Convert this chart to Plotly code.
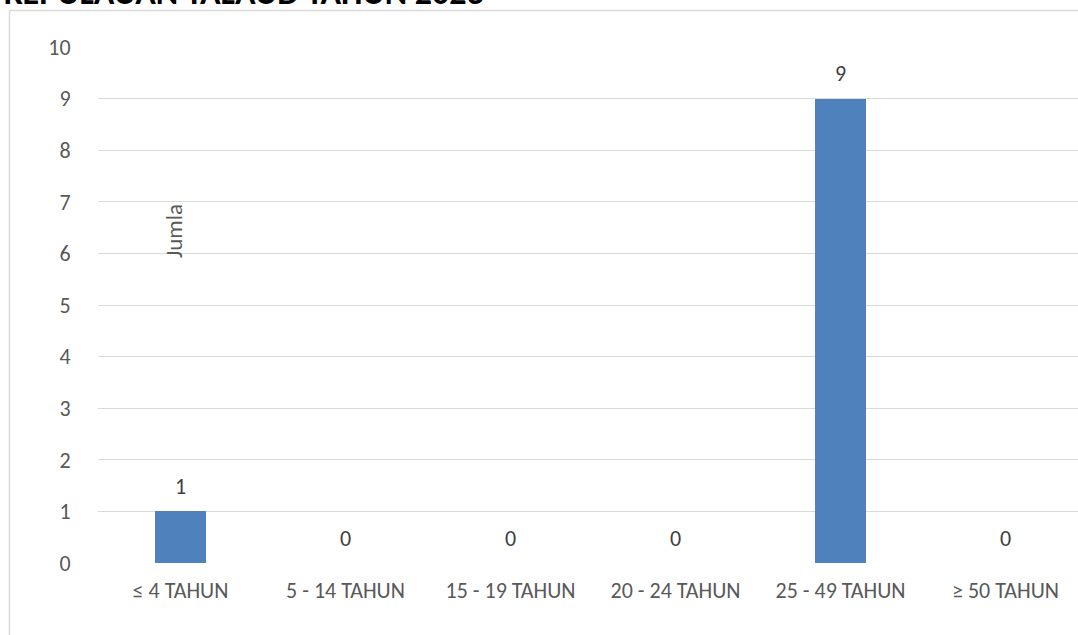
import plotly.graph_objects as go

categories = ["≤ 4 TAHUN", "5 - 14 TAHUN", "15 - 19 TAHUN", "20 - 24 TAHUN", "25 - 49 TAHUN", "≥ 50 TAHUN"]
values = [1, 0, 0, 0, 9, 0]
y_ticks = list(range(0, 11))
title_text = "KEPULAUAN TALAUD TAHUN 2023"
axis_title = "Jumla"

FONT = "Carlito, Calibri, Noto Sans, sans-serif"
FS = 22
W, H = 1078, 635
L, R, T, B = 98, 0, 47, 72
pw, ph = W - L - R, H - T - B

def px_to_paper_x(px):
    return (px - L) / pw

def px_to_paper_y(py):
    return 1 - (py - T) / ph

fig = go.Figure()
fig.add_trace(go.Bar(
    x=list(range(len(categories))),
    y=values,
    width=0.315,
    marker=dict(color="#4F81BD", line=dict(width=0)),
    hoverinfo="skip",
))

annotations = [
    dict(text=str(v), xref="x", yref="y", x=i, y=v, yshift=25,
         xanchor="center", yanchor="middle", showarrow=False,
         font=dict(family=FONT, size=FS, color="#404040"))
    for i, v in enumerate(values)
]
annotations += [
    dict(text=axis_title, xref="x", yref="y", x=-0.04, y=6.43,
         textangle=-90, showarrow=False,
         font=dict(family=FONT, size=23, color="#595959")),
    dict(text="<b>" + title_text + "</b>", xref="paper", yref="paper",
         x=px_to_paper_x(2), y=px_to_paper_y(14.5),
         xanchor="left", yanchor="bottom", showarrow=False,
         font=dict(family=FONT, size=34, color="#000000")),
]

fig.update_layout(
    width=W, height=H,
    margin=dict(l=L, r=R, t=T, b=B),
    paper_bgcolor="white", plot_bgcolor="white",
    showlegend=False,
    bargap=0,
    xaxis=dict(
        tickmode="array",
        tickvals=list(range(len(categories))),
        ticktext=categories,
        range=[-0.5, -0.5 + pw / 165.0],
        showgrid=False, zeroline=False, showline=False,
        ticks="outside", ticklen=8, tickcolor="rgba(0,0,0,0)",
        tickfont=dict(family=FONT, size=FS, color="#595959"),
    ),
    yaxis=dict(
        range=[0, 10],
        tickmode="array", tickvals=y_ticks,
        showgrid=True, gridcolor="#D9D9D9", gridwidth=1,
        zeroline=False, showline=False,
        ticks="outside", ticklen=22, tickcolor="rgba(0,0,0,0)",
        tickfont=dict(family=FONT, size=FS, color="#595959"),
    ),
    annotations=annotations,
    shapes=[
        dict(type="line", xref="paper", yref="paper",
             x0=px_to_paper_x(9.5), x1=px_to_paper_x(9.5),
             y0=px_to_paper_y(10.5), y1=px_to_paper_y(700),
             line=dict(color="#D9D9D9", width=1.5)),
        dict(type="line", xref="paper", yref="paper",
             x0=px_to_paper_x(9.5), x1=px_to_paper_x(1200),
             y0=px_to_paper_y(10.5), y1=px_to_paper_y(10.5),
             line=dict(color="#D9D9D9", width=1.5)),
    ],
)

fig.write_html("out.html", config={"displayModeBar": False},
               post_script="document.body.style.margin='0';document.body.style.overflow='hidden';")
